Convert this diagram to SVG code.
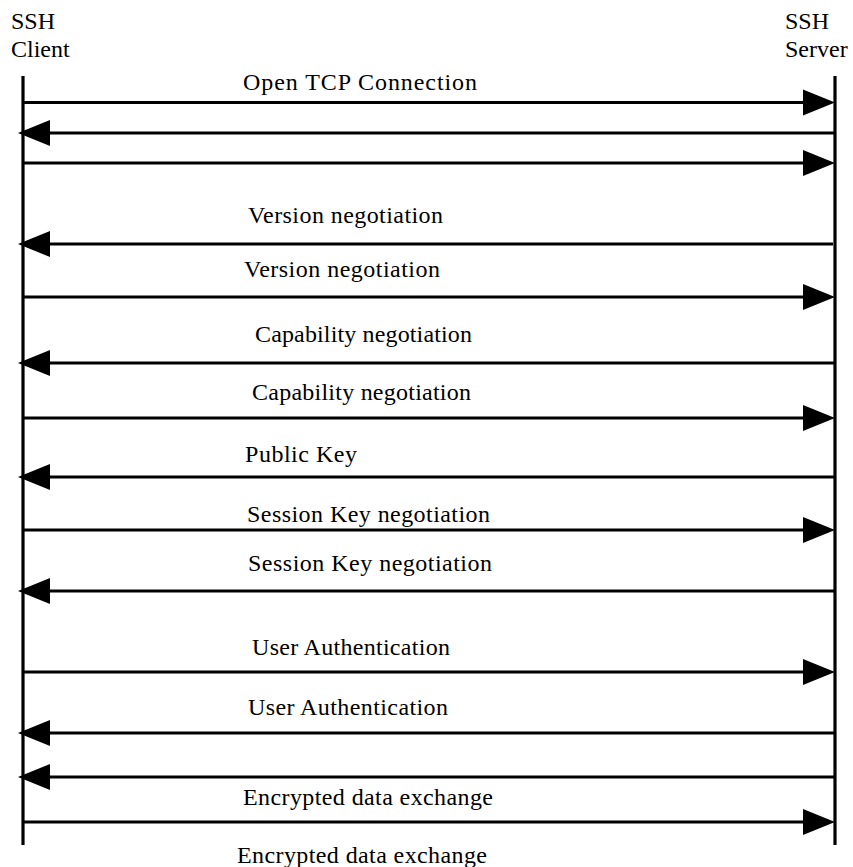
<svg xmlns="http://www.w3.org/2000/svg" width="853" height="867" viewBox="0 0 853 867">
<style>
.life{stroke:#000;stroke-width:3.2;fill:none}
.msg{stroke:#000;stroke-width:3.2;fill:none;marker-end:url(#ah)}
.hdr{font-family:"Liberation Serif","Times New Roman",serif;font-size:24px;fill:#000}
.lbl{font-family:"Liberation Serif","Times New Roman",serif;font-size:24px;fill:#000}
</style>
<defs>
<marker id="ah" markerUnits="userSpaceOnUse" markerWidth="34" markerHeight="28" refX="0" refY="13" orient="auto" overflow="visible">
<path d="M0,0 L32,13 L0,26 Z" fill="#000"/>
</marker>
</defs>
<rect width="853" height="867" fill="#fff"/>
<g id="client">
<text class="hdr" x="11" y="29">SSH</text>
<text class="hdr" x="11" y="57">Client</text>
<line class="life" x1="23" y1="76" x2="23" y2="845"/>
</g>
<g id="server">
<text class="hdr" x="785" y="29">SSH</text>
<text class="hdr" x="785" y="57">Server</text>
<line class="life" x1="835" y1="76" x2="835" y2="845"/>
</g>
<g id="connectors">
<line class="msg" x1="23" y1="102.5" x2="803" y2="102.5"/>
<line class="msg" x1="835" y1="133" x2="50" y2="133"/>
<line class="msg" x1="23" y1="163" x2="803" y2="163"/>
<line class="msg" x1="833" y1="244" x2="50" y2="244"/>
<line class="msg" x1="23" y1="297" x2="803" y2="297"/>
<line class="msg" x1="836" y1="363" x2="50" y2="363"/>
<line class="msg" x1="23" y1="418" x2="803" y2="418"/>
<line class="msg" x1="836" y1="477" x2="50" y2="477"/>
<line class="msg" x1="23" y1="530" x2="803" y2="530"/>
<line class="msg" x1="836" y1="591" x2="50" y2="591"/>
<line class="msg" x1="23" y1="672" x2="803" y2="672"/>
<line class="msg" x1="836" y1="733" x2="50" y2="733"/>
<line class="msg" x1="835" y1="777" x2="50" y2="777"/>
<line class="msg" x1="22" y1="822" x2="803" y2="822"/>
</g>
<g id="labels">
<text class="lbl" x="243" y="90" textLength="234" lengthAdjust="spacing">Open TCP Connection</text>
<text class="lbl" x="248" y="223" textLength="195" lengthAdjust="spacing">Version negotiation</text>
<text class="lbl" x="244" y="277" textLength="196" lengthAdjust="spacing">Version negotiation</text>
<text class="lbl" x="255" y="342" textLength="217" lengthAdjust="spacing">Capability negotiation</text>
<text class="lbl" x="252" y="400" textLength="219" lengthAdjust="spacing">Capability negotiation</text>
<text class="lbl" x="245" y="462" textLength="112" lengthAdjust="spacing">Public Key</text>
<text class="lbl" x="247" y="522" textLength="243" lengthAdjust="spacing">Session Key negotiation</text>
<text class="lbl" x="248" y="571" textLength="244" lengthAdjust="spacing">Session Key negotiation</text>
<text class="lbl" x="252" y="655" textLength="198" lengthAdjust="spacing">User Authentication</text>
<text class="lbl" x="248" y="715" textLength="200" lengthAdjust="spacing">User Authentication</text>
<text class="lbl" x="243" y="805" textLength="250" lengthAdjust="spacing">Encrypted data exchange</text>
<text class="lbl" x="237" y="863" textLength="250" lengthAdjust="spacing">Encrypted data exchange</text>
</g>
</svg>
